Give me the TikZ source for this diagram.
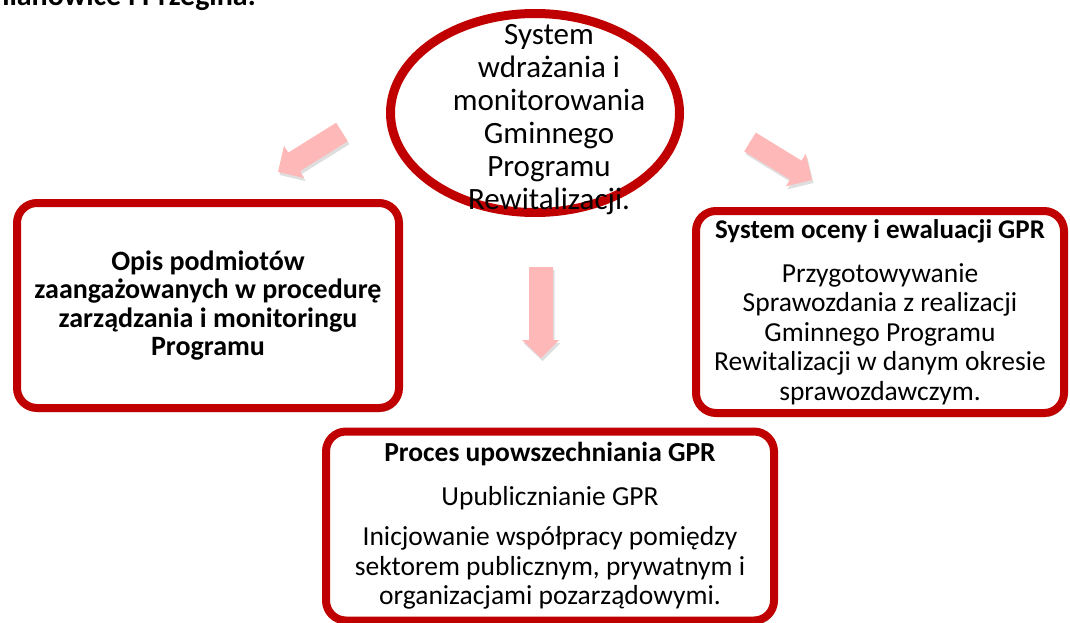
\documentclass[tikz,border=0pt]{standalone}
\usepackage{fontspec}
\setmainfont{Carlito}
\usetikzlibrary{shapes.geometric,shadows}
\definecolor{gprred}{HTML}{C00000}
\definecolor{arrowpink}{HTML}{FFB8B8}
\begin{document}
\begin{tikzpicture}[x=1pt,y=-1pt,
  box/.style={draw=gprred, line width=8pt, rounded corners=20pt, fill=white,
    align=center, inner sep=0pt,
    drop shadow={opacity=0.22, shadow xshift=2pt, shadow yshift=-4pt, fill=black}},
  oval/.style={ellipse, draw=gprred, line width=9pt, fill=white, inner sep=0pt},
  blockarrow/.style={fill=arrowpink, draw=none,
    drop shadow={opacity=0.13, shadow xshift=1.5pt, shadow yshift=-3pt, fill=black}},
  ovaltext/.style={align=center, inner sep=0pt, font=\fontsize{31}{33}\selectfont},
  headfont/.style={font=\bfseries\fontsize{30}{34}\selectfont}
]
\useasboundingbox (0,0) rectangle (1070,623);

% cut-off heading at the top
\node[headfont, anchor=base east, inner sep=0pt] (heading) at (256,6) {mianowice i Przegina.};

% block arrows
\draw[blockarrow] (336.2,122.7) -- (288.3,152.6) -- (284.0,145.8) -- (278,172)
  -- (304.2,178.0) -- (299.9,171.2) -- (347.8,141.3) -- cycle;
\draw[blockarrow] (755.8,132.6) -- (801.6,160.7) -- (805.7,153.9) -- (812,180)
  -- (785.9,186.3) -- (790.0,179.5) -- (744.2,151.4) -- cycle;
\draw[blockarrow] (529,267) -- (553,267) -- (553,340) -- (559,340) -- (541,358)
  -- (522,340) -- (529,340) -- cycle;

% central ellipse
\node[oval, minimum width=289pt, minimum height=199pt] (center) at (535,113) {};
\node[ovaltext] (centertext) at (549,120) {System\\wdrażania i\\monitorowania\\Gminnego\\Programu\\Rewitalizacji.};

% left box
\node[box, minimum width=382pt, minimum height=205pt,
  font=\bfseries\fontsize{28}{28.5}\selectfont] (left) at (208,305.5)
  {Opis podmiotów\\zaangażowanych w procedurę\\zarządzania i monitoringu\\Programu};

% right box
\node[box, minimum width=368pt, minimum height=202pt,
  font=\fontsize{27.5}{29.5}\selectfont] (right) at (880,312)
  {{\bfseries\fontsize{27}{29.5}\selectfont System oceny i ewaluacji GPR}\\[14pt]
   Przygotowywanie\\Sprawozdania z realizacji\\Gminnego Programu\\Rewitalizacji w danym okresie\\sprawozdawczym.};

% bottom box
\node[box, minimum width=448pt, minimum height=189pt,
  font=\fontsize{27.5}{29.5}\selectfont] (bottom) at (550,526)
  {{\bfseries\fontsize{27.5}{29.5}\selectfont Proces upowszechniania GPR}\\[14pt]
   Upublicznianie GPR\\[11pt]
   Inicjowanie współpracy pomiędzy\\sektorem publicznym, prywatnym i\\organizacjami pozarządowymi.};
\end{tikzpicture}
\end{document}
